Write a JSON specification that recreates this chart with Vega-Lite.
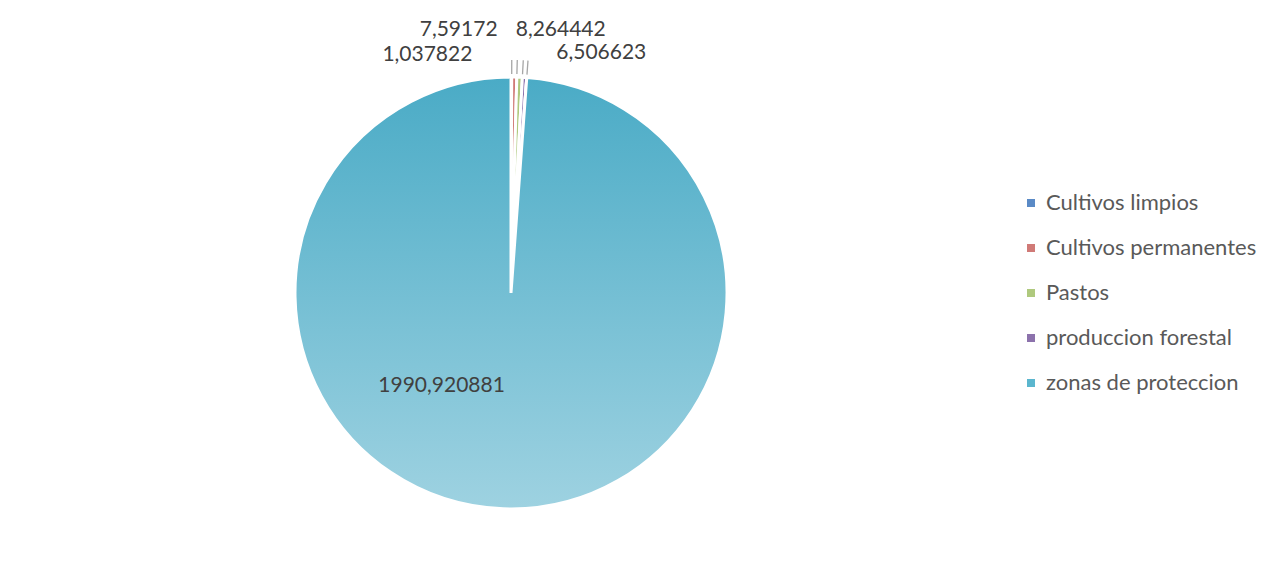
{
  "$schema": "https://vega.github.io/schema/vega-lite/v6.json",
  "width": 1006,
  "height": 552,
  "autosize": {"type": "none"},
  "padding": {"left": 8, "top": 17, "right": 259, "bottom": 0},
  "background": "white",
  "config": {
    "view": {"stroke": null},
    "font": "Lato",
    "locale": {"number": {"decimal": ",", "thousands": ".", "grouping": [3], "currency": ["", ""]}}
  },
  "data": {
    "values": [
      {"cat": "Cultivos limpios", "value": 1.037822},
      {"cat": "Cultivos permanentes", "value": 7.59172},
      {"cat": "Pastos", "value": 8.264442},
      {"cat": "produccion forestal", "value": 6.506623},
      {"cat": "zonas de proteccion", "value": 1990.920881}
    ]
  },
  "layer": [
    {
      "mark": {"type": "arc", "outerRadius": 216, "stroke": "white", "strokeWidth": 3},
      "encoding": {
        "theta": {"field": "value", "type": "quantitative", "stack": true},
        "color": {
          "field": "cat",
          "type": "nominal",
          "sort": ["Cultivos limpios", "Cultivos permanentes", "Pastos", "produccion forestal", "zonas de proteccion"],
          "scale": {
            "domain": ["Cultivos limpios", "Cultivos permanentes", "Pastos", "produccion forestal", "zonas de proteccion"],
            "range": ["#5A8AC6", "#D07A77", "#AFC97E", "#8C72AC", "#5BB6CE"]
          },
          "legend": {
            "orient": "none",
            "legendX": 1012,
            "legendY": 175,
            "title": null,
            "symbolType": "square",
            "symbolSize": 64,
            "symbolStrokeWidth": 0,
            "labelFont": "Lato",
            "labelFontSize": 22,
            "labelColor": "#595959",
            "labelOffset": 4,
            "rowPadding": 23,
            "labelLimit": 400
          }
        }
      }
    },
    {
      "mark": {
        "type": "arc",
        "outerRadius": 216,
        "stroke": "white",
        "strokeWidth": 3,
        "fill": {
          "gradient": "linear",
          "x1": 0, "y1": 0, "x2": 0, "y2": 1,
          "stops": [
            {"offset": 0, "color": "#4AABC6"},
            {"offset": 1, "color": "#9ED2E1"}
          ]
        }
      },
      "encoding": {
        "theta": {"field": "value", "type": "quantitative", "stack": true},
        "opacity": {"condition": {"test": "datum.cat === 'zonas de proteccion'", "value": 1}, "value": 0}
      }
    },
    {
      "transform": [
        {"stack": "value", "groupby": [], "as": ["v_start", "v_end"]},
        {"filter": "datum.cat !== 'zonas de proteccion'"}
      ],
      "mark": {
        "type": "arc",
        "innerRadius": 219,
        "outerRadius": 233,
        "fill": null,
        "stroke": "#A6A6A6",
        "strokeWidth": 1.3
      },
      "encoding": {
        "theta": {"field": "v_end", "type": "quantitative"},
        "theta2": {"field": "v_end"}
      }
    },
    {
      "mark": {
        "type": "text",
        "font": "Lato",
        "fontSize": 21,
        "color": "#404040",
        "align": "center",
        "baseline": "middle",
        "radius": {"expr": "datum.cat === 'zonas de proteccion' ? 93 : 245"},
        "dx": {"expr": "datum.cat === 'zonas de proteccion' ? -66 : datum.cat === 'Cultivos limpios' ? -84 : datum.cat === 'Cultivos permanentes' ? -61 : datum.cat === 'Pastos' ? 35 : 87"},
        "dy": {"expr": "datum.cat === 'zonas de proteccion' ? 0 : datum.cat === 'Cultivos limpios' ? 7 : datum.cat === 'Cultivos permanentes' ? -18 : datum.cat === 'Pastos' ? -18 : 5"}
      },
      "encoding": {
        "theta": {"field": "value", "type": "quantitative", "stack": true},
        "text": {"field": "value", "type": "quantitative", "format": ".6~f"}
      }
    }
  ]
}
